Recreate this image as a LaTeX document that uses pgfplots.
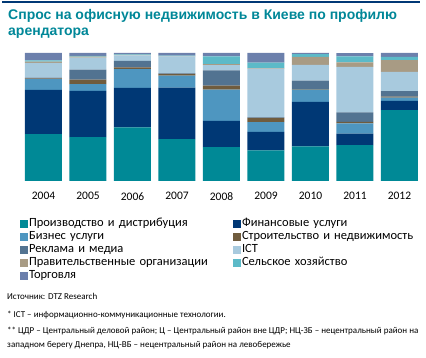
\documentclass[border=0pt]{standalone}
\usepackage{pgfplots}
\pgfplotsset{compat=1.18}
\usepackage{fontspec}
\setmainfont{Carlito}
\newfontfamily\titlefont{Liberation Sans}
\definecolor{cProd}{RGB}{0,137,150}
\definecolor{cFin}{RGB}{0,56,117}
\definecolor{cBiz}{RGB}{78,150,192}
\definecolor{cCon}{RGB}{112,92,62}
\definecolor{cAdv}{RGB}{82,115,145}
\definecolor{cICT}{RGB}{168,202,222}
\definecolor{cGov}{RGB}{168,155,132}
\definecolor{cAgr}{RGB}{92,186,200}
\definecolor{cTrd}{RGB}{108,128,172}
\definecolor{cTitle}{RGB}{0,135,152}
\pgfplotsset{sqleg/.style={legend image code/.code={\fill[##1] (0pt,-4pt) rectangle (8pt,4pt);}}}
\begin{document}
\begin{tikzpicture}
\path[use as bounding box] (0pt,0pt) rectangle (426pt,-358pt);
\fill[cFin] (2pt,-1pt) rectangle (420pt,-3.5pt);
\node[anchor=base west,inner sep=0pt,font=\titlefont\bfseries\fontsize{14}{16}\selectfont,text=cTitle] at (8pt,-20pt) {Спрос на офисную недвижимость в Киеве по профилю};
\node[anchor=base west,inner sep=0pt,font=\titlefont\bfseries\fontsize{14}{16}\selectfont,text=cTitle] at (8pt,-36pt) {арендатора};
\begin{axis}[
  at={(21.25pt,-181pt)}, anchor=south west,
  scale only axis, width=400.5pt, height=128pt,
  xmin=-0.5, xmax=8.5, ymin=0, ymax=100,
  ybar stacked, bar width=37pt,
  axis line style={draw=none}, tick style={draw=none},
  ytick=\empty,
  xtick={0,...,8},
  xticklabels={2004,2005,2006,2007,2008,2009,2010,2011,2012},
  xticklabel style={font=\fontsize{11.5}{13}\selectfont, yshift=-8pt},
  legend columns=2,
  legend cell align=left,
  legend style={at={(-0.003,-0.284)}, anchor=north west, draw=none, fill=none,
    inner sep=0pt, outer sep=0pt, row sep=0pt, column sep=0pt,
    font=\fontsize{12.5}{14}\selectfont,
    nodes={inner sep=1pt, text height=8.6pt, text depth=2.4pt, text width=203pt}},
]
\addplot[fill=cProd, draw=none, sqleg] coordinates {(0,36.6) (1,34.3) (2,41.8) (3,32.7) (4,26.5) (5,23.9) (6,27.0) (7,28.0) (8,55.3)};
\addplot[fill=cFin, draw=none, sqleg] coordinates {(0,34.5) (1,36.1) (2,30.9) (3,40.2) (4,20.5) (5,14.5) (6,34.8) (7,9.1) (8,7.3)};
\addplot[fill=cBiz, draw=none, sqleg] coordinates {(0,8.6) (1,5.2) (2,14.7) (3,9.4) (4,24.4) (5,7.5) (6,9.6) (7,8.0) (8,2.6)};
\addplot[fill=cCon, draw=none, sqleg] coordinates {(0,0.5) (1,3.6) (2,1.3) (3,1.3) (4,3.1) (5,3.4) (6,0.3) (7,1.0) (8,0.8)};
\addplot[fill=cAdv, draw=none, sqleg] coordinates {(0,0.5) (1,7.8) (2,5.2) (3,0.5) (4,11.9) (5,0.5) (6,6.8) (7,7.5) (8,4.2)};
\addplot[fill=cICT, draw=none, sqleg] coordinates {(0,11.6) (1,9.4) (2,4.3) (3,13.2) (4,4.2) (5,38.0) (6,12.2) (7,35.6) (8,15.1)};
\addplot[fill=cGov, draw=none, sqleg] coordinates {(0,1.0) (1,0.8) (2,0.4) (3,0.3) (4,0.8) (5,0.3) (6,6.2) (7,3.4) (8,9.1)};
\addplot[fill=cAgr, draw=none, sqleg] coordinates {(0,1.0) (1,0.5) (2,0.4) (3,0.3) (4,6.0) (5,4.4) (6,2.3) (7,4.7) (8,2.6)};
\addplot[fill=cTrd, draw=none, sqleg] coordinates {(0,5.7) (1,2.3) (2,1.0) (3,2.1) (4,2.6) (5,7.5) (6,0.8) (7,2.6) (8,3.1)};
\legend{Производство и дистрибуция, Финансовые услуги, Бизнес услуги, Строительство и недвижимость, Реклама и медиа, ICT, Правительственные организации, Сельское хозяйство, Торговля}
\end{axis}
\node[anchor=base west,inner sep=0pt,font=\fontsize{9}{11}\selectfont] at (7pt,-300pt) {Источник: DTZ Research};
\node[anchor=base west,inner sep=0pt,font=\fontsize{9}{11}\selectfont] at (7pt,-317pt) {* ICT – информационно-коммуникационные технологии.};
\node[anchor=base west,inner sep=0pt,font=\fontsize{9}{11}\selectfont] at (7pt,-334pt) {** ЦДР – Центральный деловой район; Ц – Центральный район вне ЦДР; НЦ-ЗБ – нецентральный район на};
\node[anchor=base west,inner sep=0pt,font=\fontsize{9}{11}\selectfont] at (7pt,-348pt) {западном берегу Днепра, НЦ-ВБ – нецентральный район на левобережье};
\end{tikzpicture}
\end{document}
